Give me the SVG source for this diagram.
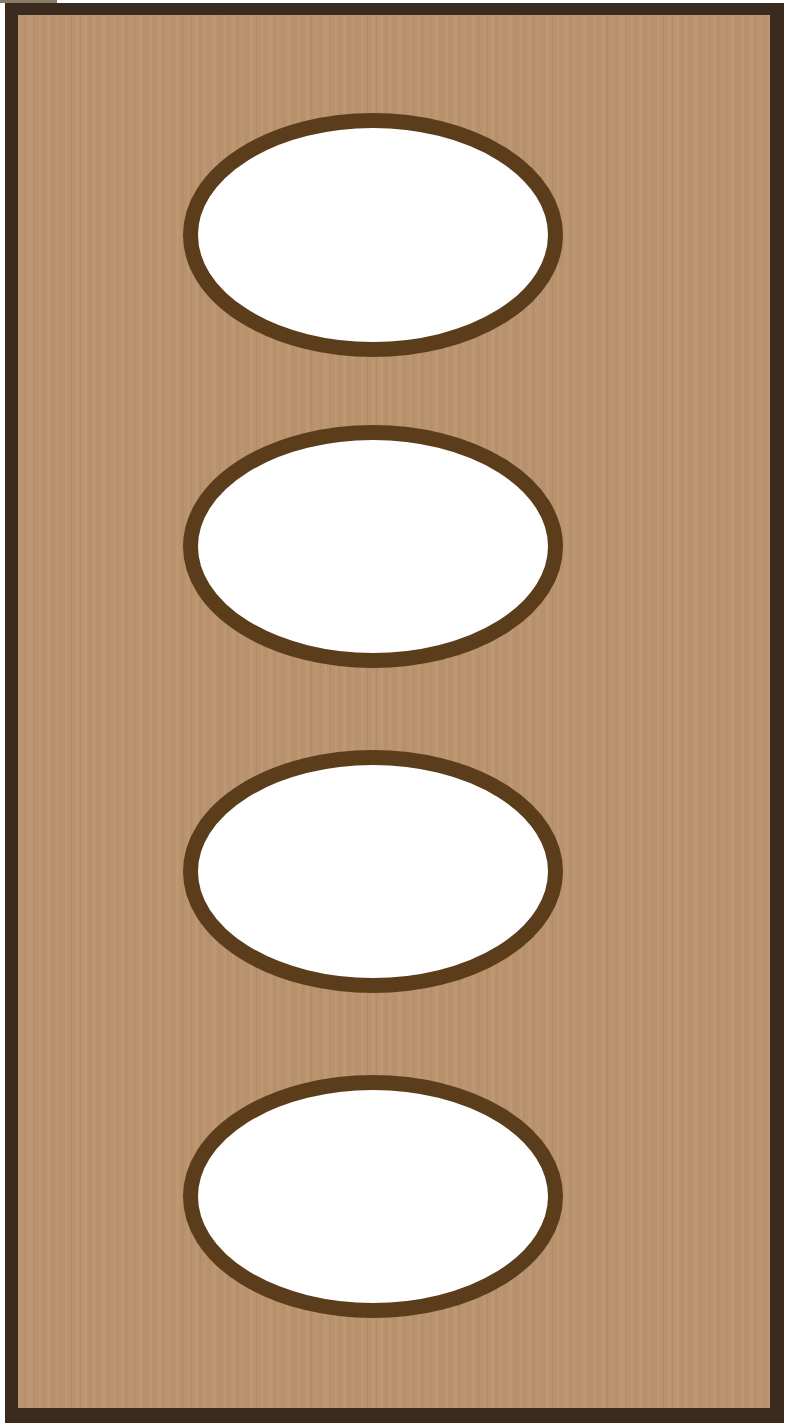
<svg xmlns="http://www.w3.org/2000/svg" width="799" height="1424" viewBox="0 0 799 1424">
  <defs>
    <pattern id="grain" x="0" y="0" width="37" height="1424" patternUnits="userSpaceOnUse">
      <rect width="37" height="1424" fill="#b9936e"/>
      <rect x="2" width="2" height="1424" fill="#bf9a74" opacity="0.8"/>
      <rect x="6" width="1" height="1424" fill="#ad8863" opacity="0.6"/>
      <rect x="10" width="3" height="1424" fill="#c09b76" opacity="0.6"/>
      <rect x="15" width="1" height="1424" fill="#a9845f" opacity="0.5"/>
      <rect x="19" width="2" height="1424" fill="#bd9873" opacity="0.7"/>
      <rect x="24" width="1" height="1424" fill="#b08b66" opacity="0.6"/>
      <rect x="28" width="3" height="1424" fill="#c29d78" opacity="0.5"/>
      <rect x="34" width="1" height="1424" fill="#ab8661" opacity="0.5"/>
    </pattern>
    <style>
      .hole { fill: #ffffff; stroke: #5b3d1c; stroke-width: 15; }
    </style>
  </defs>
  <rect width="799" height="1424" fill="#ffffff"/>
  <rect x="0" y="0" width="57" height="3" fill="#8a7a6a"/>
  <g id="frame">
    <rect x="5" y="3" width="779" height="1420" fill="#3b2b1f"/>
    <rect x="18" y="15" width="752" height="1393" fill="url(#grain)"/>
  </g>
  <g id="hole1"><ellipse class="hole" cx="373" cy="235" rx="182.5" ry="114.5"/></g>
  <g id="hole2"><ellipse class="hole" cx="373" cy="546.5" rx="182.5" ry="114"/></g>
  <g id="hole3"><ellipse class="hole" cx="373" cy="871.5" rx="182.5" ry="114"/></g>
  <g id="hole4"><ellipse class="hole" cx="373" cy="1196.5" rx="182.5" ry="114"/></g>
  <g id="connectors"/>
</svg>
